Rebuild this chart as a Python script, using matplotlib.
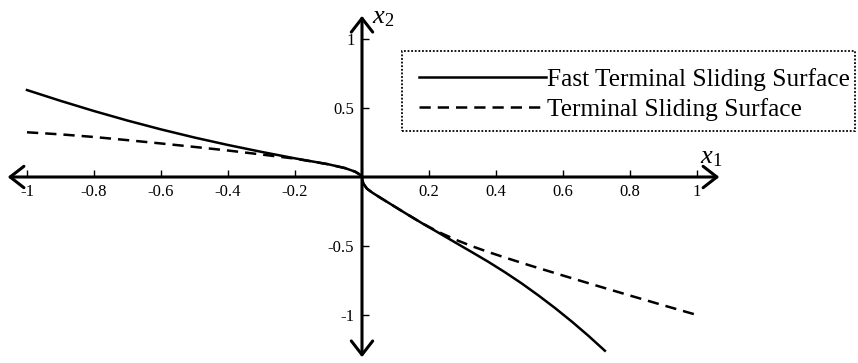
import matplotlib
matplotlib.use("Agg")
import matplotlib.pyplot as plt
from matplotlib.patches import FancyArrowPatch, Rectangle

plt.rcParams["font.family"] = ["Liberation Serif", "DejaVu Serif"]
plt.rcParams["mathtext.fontset"] = "custom"
plt.rcParams["mathtext.rm"] = "Liberation Serif"
plt.rcParams["mathtext.it"] = "Liberation Serif:italic"

# Phase-plane trajectories (x1, x2)
fast_x = [-1.0, -0.9, -0.8, -0.7, -0.6, -0.5, -0.4, -0.3, -0.2, -0.1,
          -0.05, -0.02, -0.008, 0.0, 0.002, 0.006, 0.015, 0.03, 0.05, 0.08,
          0.13, 0.18, 0.23, 0.278, 0.327, 0.376, 0.426, 0.476, 0.526, 0.576,
          0.626, 0.676, 0.725]
fast_y = [0.630, 0.552, 0.478, 0.409, 0.345, 0.286, 0.232, 0.182, 0.135, 0.092,
          0.064, 0.038, 0.020, 0.0, -0.030, -0.055, -0.085, -0.112, -0.143, -0.188,
          -0.263, -0.336, -0.406, -0.474, -0.543, -0.613, -0.689, -0.770, -0.857, -0.949,
          -1.047, -1.151, -1.259]

term_x = [-1.0, -0.9, -0.8, -0.7, -0.6, -0.5, -0.4, -0.3, -0.25, -0.2,
          -0.1, -0.05, -0.02, -0.008, 0.0, 0.002, 0.006, 0.015, 0.03, 0.05,
          0.08, 0.13, 0.18, 0.23, 0.28, 0.33, 0.38, 0.43, 0.5, 0.6,
          0.7, 0.8, 0.9, 1.0]
term_y = [0.324, 0.309, 0.290, 0.267, 0.243, 0.218, 0.192, 0.163, 0.148, 0.133,
          0.092, 0.064, 0.038, 0.020, 0.0, -0.030, -0.055, -0.085, -0.112, -0.143,
          -0.188, -0.263, -0.336, -0.400, -0.455, -0.503, -0.546, -0.586, -0.640, -0.714,
          -0.787, -0.859, -0.930, -1.0]

x_ticks = [-1, -0.8, -0.6, -0.4, -0.2, 0.2, 0.4, 0.6, 0.8, 1]
x_tick_labels = ["-1", "-0.8", "-0.6", "-0.4", "-0.2", "0.2", "0.4", "0.6", "0.8", "1"]
y_ticks = [-1, -0.5, 0.5, 1]
y_tick_labels = ["-1", "-0.5", "0.5", "1"]

fig = plt.figure(figsize=(8.58, 3.63), dpi=100)
ax = fig.add_axes([0, 0, 1, 1])
ax.set_xlim(-1.0806, 1.4806)
ax.set_ylim(-1.3478, 1.2826)

# axes through the origin; the visible lines are drawn as arrows below
ax.spines["left"].set_position(("data", 0))
ax.spines["bottom"].set_position(("data", 0))
for side in ("top", "right", "left", "bottom"):
    ax.spines[side].set_visible(False)

ax.set_xticks(x_ticks)
ax.set_xticklabels(x_tick_labels)
ax.set_yticks(y_ticks)
ax.set_yticklabels(y_tick_labels)
ax.tick_params(axis="both", direction="in", length=5, width=1.0, labelsize=12)
ax.tick_params(axis="x", pad=5)
ax.tick_params(axis="y", pad=5.5)

# double-headed axis arrows
arrow_kw = dict(arrowstyle="<->,head_length=0.45,head_width=0.35",
                mutation_scale=22, lw=2.2, color="black", zorder=3)
ax.add_patch(FancyArrowPatch((-1.066, 0), (1.075, 0), **arrow_kw))
ax.add_patch(FancyArrowPatch((0, -1.326), (0, 1.188), **arrow_kw))

ax.plot(fast_x, fast_y, color="black", lw=1.8, label="Fast Terminal Sliding Surface", zorder=4)
ax.plot(term_x, term_y, color="black", lw=1.8, linestyle=(0, (4.5, 2.8)),
        label="Terminal Sliding Surface", zorder=4)

ax.text(1.009, 0.101, r"$x_1$", fontsize=19, ha="left", va="baseline")
ax.text(0.03, 1.116, r"$x_2$", fontsize=19, ha="left", va="baseline")

# dotted legend box
ax.add_patch(Rectangle((0.4685, 0.6391), 0.528, 0.2204, transform=ax.transAxes,
                       facecolor="white", edgecolor="black", lw=1.3,
                       linestyle=(0, (1, 1)), zorder=5))
leg = ax.legend(loc="upper left", bbox_to_anchor=(0.4883, 0.8127), borderaxespad=0,
                fontsize=18.3, handlelength=5.0, handletextpad=0.05, labelspacing=0.26,
                borderpad=0.0, frameon=False)
leg.set_zorder(6)

fig.savefig("out.png", dpi=100)
